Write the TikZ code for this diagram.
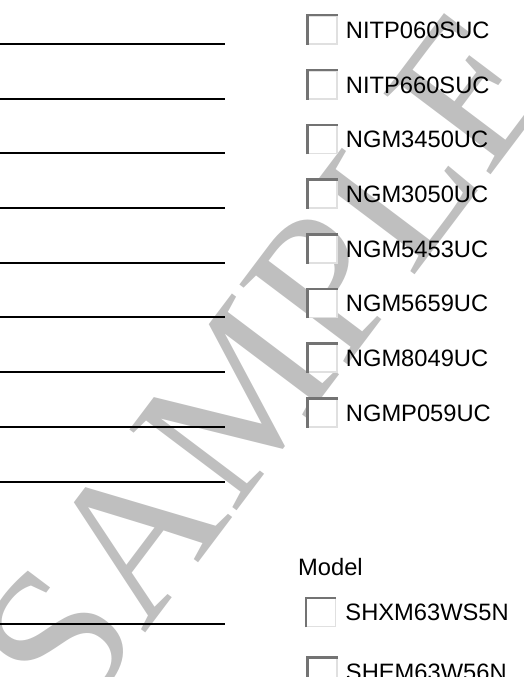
\documentclass[tikz,border=0pt]{standalone}
\usepackage{fontspec}
\setmainfont{Liberation Sans}
\newfontfamily\stampfont{Liberation Serif}
\usetikzlibrary{positioning}
\begin{document}
\begin{tikzpicture}[x=1pt,y=-1pt,
    blank/.style={black,line width=1.1pt},
    tickbox/.style={draw=black!12,line width=1.5pt,fill=white,minimum width=29pt,minimum height=28pt,inner sep=0pt},
    boxedge/.style={black!55,line width=2.5pt},
    item/.style={inner sep=0pt,font=\fontsize{23.7pt}{28pt}\selectfont}]
  \useasboundingbox (0,0) rectangle (524,677);
  % watermark
  \node[black!25,rotate=53,font=\stampfont\fontsize{205pt}{205pt}\selectfont] (stamp) at (266,362) {SAMPLE};
  % fill-in lines on the left
  \draw[blank] (0,44) -- (225,44);
  \draw[blank] (0,99) -- (225,99);
  \draw[blank] (0,153) -- (225,153);
  \draw[blank] (0,208) -- (225,208);
  \draw[blank] (0,263) -- (225,263);
  \draw[blank] (0,317) -- (225,317);
  \draw[blank] (0,372) -- (225,372);
  \draw[blank] (0,427) -- (225,427);
  \draw[blank] (0,482) -- (225,482);
  \draw[blank] (0,624) -- (225,624);
  % check boxes with part numbers
  \node[tickbox] (c1) at (322.5,30) {};
  \draw[boxedge] (c1.south west) |- (c1.north east);
  \node[item,right=8pt of c1] (p1) {NITP060SUC};
  \node[tickbox] (c2) at (322.5,85) {};
  \draw[boxedge] (c2.south west) |- (c2.north east);
  \node[item,right=8pt of c2] (p2) {NITP660SUC};
  \node[tickbox] (c3) at (322.5,139.5) {};
  \draw[boxedge] (c3.south west) |- (c3.north east);
  \node[item,right=8pt of c3] (p3) {NGM3450UC};
  \node[tickbox] (c4) at (322.5,194) {};
  \draw[boxedge] (c4.south west) |- (c4.north east);
  \node[item,right=8pt of c4] (p4) {NGM3050UC};
  \node[tickbox] (c5) at (322.5,249) {};
  \draw[boxedge] (c5.south west) |- (c5.north east);
  \node[item,right=8pt of c5] (p5) {NGM5453UC};
  \node[tickbox] (c6) at (322.5,303.5) {};
  \draw[boxedge] (c6.south west) |- (c6.north east);
  \node[item,right=8pt of c6] (p6) {NGM5659UC};
  \node[tickbox] (c7) at (322.5,358) {};
  \draw[boxedge] (c7.south west) |- (c7.north east);
  \node[item,right=8pt of c7] (p7) {NGM8049UC};
  \node[tickbox] (c8) at (322.5,413) {};
  \draw[boxedge] (c8.south west) |- (c8.north east);
  \node[item,right=8pt of c8] (p8) {NGMP059UC};
  % model section
  \node[item,anchor=west] (model) at (298,567) {Model};
  \node[tickbox] (m1) at (321,612.5) {};
  \draw[boxedge] (m1.south west) |- (m1.north east);
  \node[item,right=9pt of m1] (q1) {SHXM63WS5N};
  \node[tickbox] (m2) at (322.5,672) {};
  \draw[boxedge] (m2.south west) |- (m2.north east);
  \node[item,right=8pt of m2] (q2) {SHEM63W56N};
\end{tikzpicture}
\end{document}
